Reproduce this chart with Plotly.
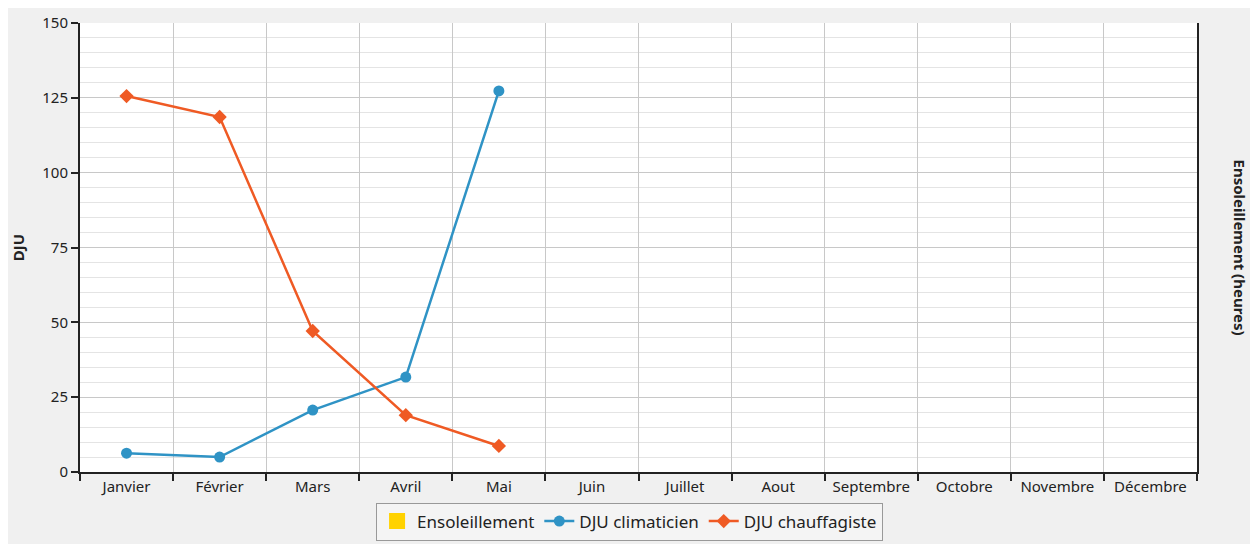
import plotly.graph_objects as go

mois = ['Janvier', 'Février', 'Mars', 'Avril', 'Mai', 'Juin', 'Juillet',
        'Aout', 'Septembre', 'Octobre', 'Novembre', 'Décembre']
ensoleillement = [None] * 12
dju_clim = [6.3, 5.0, 20.7, 31.7, 127.3, None, None, None, None, None, None, None]
dju_chauf = [125.6, 118.6, 47.1, 19.0, 8.7, None, None, None, None, None, None, None]

font = 'Noto Sans'

fig = go.Figure()
# Ensoleillement : aucune valeur, seulement l'entrée de légende
fig.add_trace(go.Scatter(x=mois, y=ensoleillement, mode='markers', name='Ensoleillement',
                         marker=dict(symbol='square', size=16, color='#ffd200'), yaxis='y2'))
fig.add_trace(go.Scatter(x=mois, y=dju_clim, mode='lines+markers', name='DJU climaticien',
                         line=dict(color='#2f93c5', width=2.5),
                         marker=dict(symbol='circle', size=11, color='#2f93c5')))
fig.add_trace(go.Scatter(x=mois, y=dju_chauf, mode='lines+markers', name='DJU chauffagiste',
                         line=dict(color='#ef5a24', width=2.5),
                         marker=dict(symbol='diamond', size=11, color='#ef5a24')))

fig.update_layout(
    width=1250, height=536,
    margin=dict(l=72, r=61, t=15, b=72, autoexpand=False),
    paper_bgcolor='#f0f0f0', plot_bgcolor='white',
    font=dict(family=font, size=15, color='#222'),
    showlegend=True,
    legend=dict(orientation='h', x=0.492, xanchor='center', y=-0.068, yanchor='top',
                bgcolor='#f4f4f4', bordercolor='#999', borderwidth=1,
                font=dict(size=17), traceorder='normal', itemwidth=30),
    xaxis=dict(type='category', tickson='boundaries', ticks='outside', ticklen=7,
               tickcolor='#222', tickwidth=2, showgrid=True, gridcolor='#c8c8c8', gridwidth=1,
               showline=True, linecolor='#222', linewidth=2, mirror=False,
               tickfont=dict(size=15), range=[-0.5, 11.5]),
    yaxis=dict(title=dict(text='<b>DJU</b>', font=dict(size=15), standoff=22),
               range=[0, 150], tick0=0, dtick=25, ticks='outside', ticklen=7,
               tickcolor='#222', tickwidth=2, showline=True, linecolor='#222', linewidth=2,
               showgrid=True, gridcolor='#c8c8c8', gridwidth=1, zeroline=False,
               minor=dict(dtick=5, showgrid=True, gridcolor='#e4e4e4', gridwidth=1),
               tickfont=dict(size=15)),
    yaxis2=dict(overlaying='y', side='right', range=[0, 150], showticklabels=False,
                showgrid=False, zeroline=False, showline=True, linecolor='#222',
                linewidth=2, ticks=''),
)

fig.add_annotation(text='<b>Ensoleillement (heures)</b>', textangle=90,
                   xref='paper', yref='paper', x=1.0385, y=0.5, showarrow=False,
                   xanchor='center', yanchor='middle', font=dict(size=15, color='#222'))

fig.write_html('out.html')
